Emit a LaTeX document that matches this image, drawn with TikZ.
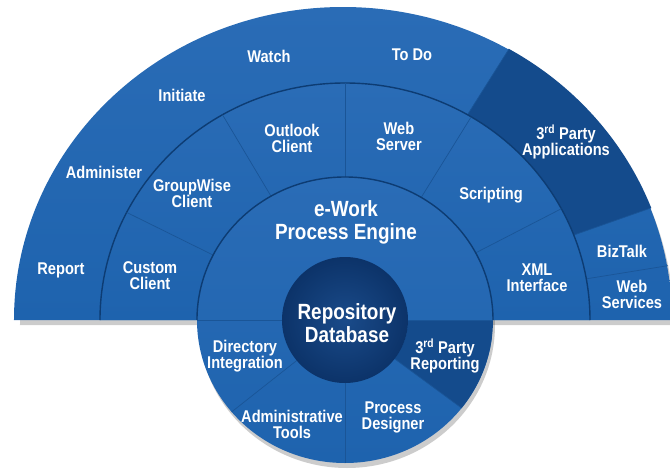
\documentclass[tikz,border=0pt]{standalone}
\usepackage{fontspec}
\newfontfamily\lblfont{Liberation Sans}[FakeStretch=0.86]
\usepackage{xcolor}
\definecolor{bodyblue}{HTML}{1E63AE}
\definecolor{bodylight}{HTML}{2A6CB6}
\definecolor{ringline}{HTML}{0D3C73}
\definecolor{segdark}{HTML}{144B8C}
\definecolor{coreblue}{HTML}{0C3369}
\definecolor{corelight}{HTML}{1A4B8A}
\definecolor{divline}{HTML}{1A5597}
\usetikzlibrary{shadows}

\begin{document}
\begin{tikzpicture}[x=1pt, y=1pt,
  body/.style={top color=bodylight, bottom color=bodyblue},
  ring/.style={draw=ringline, line width=1.4pt},
  divider/.style={draw=divline, line width=0.7pt},
  lbl/.style={text=white, align=center, inner sep=0pt,
    font=\lblfont\bfseries\fontsize{17}{16}\selectfont},
  biglbl/.style={lbl, font=\lblfont\bfseries\fontsize{22}{23}\selectfont}]

  \useasboundingbox (-345,-155) rectangle (325,320);

  % Shadow under the whole fan
  \fill[black, opacity=0.2] (-325,-5) arc[start angle=180, end angle=0, x radius=327, y radius=313] -- cycle;
  \fill[black, opacity=0.2] (2,-5) ellipse[x radius=148, y radius=143];

  % Outer ring
  \shade[body] (-331,0) arc[start angle=180, end angle=0, x radius=329, y radius=313] -- cycle;
  % 3rd party applications segment
  \fill[fill=segdark] ({328*cos(21)},{313*sin(21)})
    arc[start angle=21, end angle=60, x radius=328, y radius=313]
    -- ({245*cos(60)},{237*sin(60)})
    arc[start angle=60, end angle=21, x radius=245, y radius=237] -- cycle;
  \foreach \a in {60,21,10}
    \draw[divider] ({245*cos(\a)},{237*sin(\a)}) -- ({328*cos(\a)},{313*sin(\a)});

  % Middle ring
  \shade[body] (-245,0) arc[start angle=180, end angle=0, x radius=245, y radius=237] -- cycle;
  \draw[ring] (-245,0) arc[start angle=180, end angle=0, x radius=245, y radius=237];
  \foreach \a in {153,120,90,59,28}
    \draw[divider] ({148*cos(\a)},{143*sin(\a)}) -- ({245*cos(\a)},{237*sin(\a)});

  % Process engine disc
  \shade[top color=bodylight, bottom color=bodyblue] (0,0) ellipse[x radius=148, y radius=143];
  \draw[ring] (-148,0) arc[start angle=180, end angle=0, x radius=148, y radius=143];
  % 3rd party reporting segment
  \fill[fill=segdark] (63,0) -- (148,0)
    arc[start angle=0, end angle=-38, x radius=148, y radius=143]
    -- ({63*cos(-38)},{63*sin(-38)})
    arc[start angle=-38, end angle=0, radius=63] -- cycle;
  \foreach \a in {220,270,322}
    \draw[divider] ({63*cos(\a)},{63*sin(\a)}) -- ({148*cos(\a)},{143*sin(\a)});
  \draw[divider] (-148,0) -- (-63,0);
  \draw[divider] (63,0) -- (148,0);

  % Repository core
  \shade[inner color=corelight, outer color=coreblue] (0,0) circle[radius=63];

  % Outer ring labels
  \node[lbl] (report) at (-284,50) {Report};
  \node[lbl] (administer) at (-241,148) {Administer};
  \node[lbl] (initiate) at (-163,225) {Initiate};
  \node[lbl] (watch) at (-76,264) {Watch};
  \node[lbl] (todo) at (67,265) {To Do};
  \node[lbl] (apps) at (221,178) {3\textsuperscript{rd} Party\\Applications};
  \node[lbl] (biztalk) at (277,69) {BizTalk};
  \node[lbl] (websrv) at (287,26) {Web\\Services};

  % Middle ring labels
  \node[lbl] (custom) at (-195,44) {Custom\\Client};
  \node[lbl] (groupwise) at (-153,127) {GroupWise\\Client};
  \node[lbl] (outlook) at (-53,182) {Outlook\\Client};
  \node[lbl] (webserver) at (54,184) {Web\\Server};
  \node[lbl] (scripting) at (146,125) {Scripting};
  \node[lbl] (xml) at (192,42) {XML\\Interface};

  % Engine and core labels
  \node[biglbl] (engine) at (1,98) {e-Work\\Process Engine};
  \node[biglbl] (repo) at (2,-3) {Repository\\Database};
  \node[lbl] (directory) at (-100,-36) {Directory\\Integration};
  \node[lbl] (reporting) at (100,-36) {3\textsuperscript{rd} Party\\Reporting};
  \node[lbl] (admintools) at (-53,-104) {Administrative\\Tools};
  \node[lbl] (designer) at (48,-97) {Process\\Designer};

\end{tikzpicture}
\end{document}
